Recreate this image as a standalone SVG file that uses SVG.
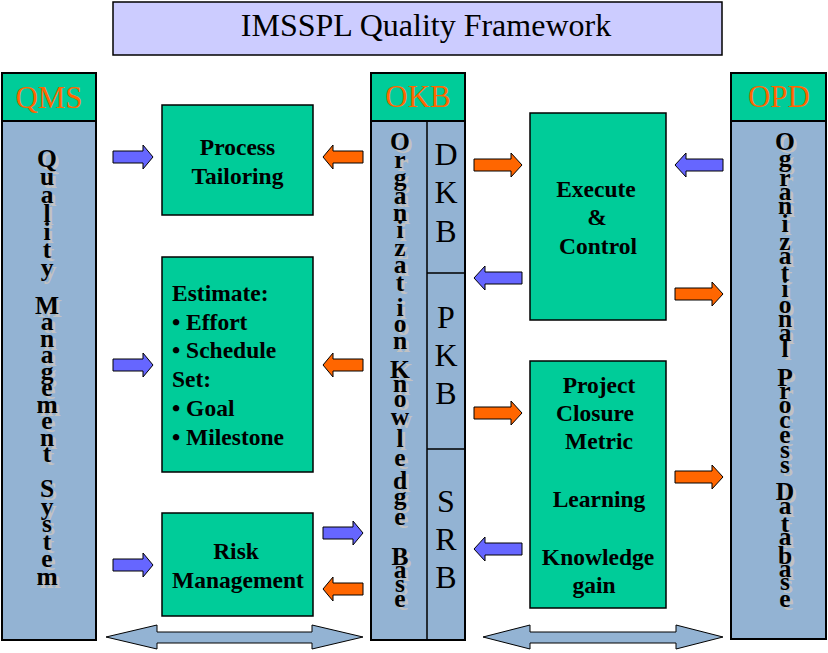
<svg xmlns="http://www.w3.org/2000/svg" xmlns:xlink="http://www.w3.org/1999/xlink" width="828" height="653" viewBox="0 0 828 653">
<style>
.col{fill:#93B3D3;stroke:#000;stroke-width:2}
.hdr{fill:#00CC99;stroke:#000;stroke-width:2}
.box{fill:#00CC99;stroke:#000;stroke-width:1.5}
.ln{stroke:#000;stroke-width:1.5;fill:none}
.hdrt{font-family:"Liberation Serif","Times New Roman",serif;font-size:31px;fill:#FF6600;text-anchor:middle}
.vt{font-family:"Liberation Serif","Times New Roman",serif;font-size:25.5px;font-weight:bold;text-anchor:middle}
.bt{font-family:"Liberation Serif","Times New Roman",serif;font-size:23.5px;font-weight:bold;text-anchor:middle;fill:#000}
.bl{font-family:"Liberation Serif","Times New Roman",serif;font-size:23.5px;font-weight:bold;fill:#000}
.sub{font-family:"Liberation Serif","Times New Roman",serif;font-size:32px;text-anchor:middle;fill:#000}
.title{font-family:"Liberation Serif","Times New Roman",serif;font-size:32px;text-anchor:middle;fill:#000}
.ao{fill:#FF6600;stroke:#000;stroke-width:1}
.ab{fill:#6666FF;stroke:#000;stroke-width:1}
.ad{fill:#93B3D3;stroke:#000;stroke-width:1}
</style>

<g id="title">
<rect x="113" y="2" width="609" height="53" fill="#CCCCFF" stroke="#000" stroke-width="1.5"/>
<text class="title" x="426" y="36">IMSSPL Quality Framework</text>
</g>

<g id="qms" fill="#000">
<rect class="hdr" x="2" y="73" width="94" height="48"/>
<rect class="col" x="2" y="121" width="94" height="519"/>
<text class="hdrt" x="49" y="108">QMS</text>
<use xlink:href="#tQMS" href="#tQMS" x="3" y="3" fill="#C2C2C2"/>
<text id="tQMS" class="vt"><tspan x="47" y="167">Q</tspan><tspan x="47" y="185">u</tspan><tspan x="47" y="203">a</tspan><tspan x="47" y="221.5">l</tspan><tspan x="47" y="240">i</tspan><tspan x="47" y="258">t</tspan><tspan x="47" y="276">y</tspan><tspan x="47" y="295"> </tspan><tspan x="47" y="314">M</tspan><tspan x="47" y="330.4">a</tspan><tspan x="47" y="346.9">n</tspan><tspan x="47" y="363.3">a</tspan><tspan x="47" y="379.8">g</tspan><tspan x="47" y="396.2">e</tspan><tspan x="47" y="412.7">m</tspan><tspan x="47" y="429.1">e</tspan><tspan x="47" y="445.6">n</tspan><tspan x="47" y="462">t</tspan><tspan x="47" y="480"> </tspan><tspan x="47" y="497">S</tspan><tspan x="47" y="514.6">y</tspan><tspan x="47" y="532.2">s</tspan><tspan x="47" y="549.8">t</tspan><tspan x="47" y="567.4">e</tspan><tspan x="47" y="585">m</tspan></text>
</g>

<g id="okb" fill="#000">
<rect class="hdr" x="371" y="73" width="94" height="48"/>
<rect class="col" x="371" y="121" width="94" height="519"/>
<path class="ln" d="M427,121 V640 M427,273 H465 M427,449 H465"/>
<text class="hdrt" x="418" y="107">OKB</text>
<use xlink:href="#tOKB" href="#tOKB" x="3" y="3" fill="#C2C2C2"/>
<text id="tOKB" class="vt"><tspan x="400" y="150">O</tspan><tspan x="400" y="168">r</tspan><tspan x="400" y="186">g</tspan><tspan x="400" y="204">a</tspan><tspan x="400" y="221">n</tspan><tspan x="400" y="238">i</tspan><tspan x="400" y="256">z</tspan><tspan x="400" y="273">a</tspan><tspan x="400" y="291">t</tspan><tspan x="400" y="316">i</tspan><tspan x="400" y="332">o</tspan><tspan x="400" y="349">n</tspan><tspan x="400" y="364"> </tspan><tspan x="400" y="378">K</tspan><tspan x="400" y="392">n</tspan><tspan x="400" y="407">o</tspan><tspan x="400" y="425">w</tspan><tspan x="400" y="447">l</tspan><tspan x="400" y="466">e</tspan><tspan x="400" y="489">d</tspan><tspan x="400" y="505">g</tspan><tspan x="400" y="525">e</tspan><tspan x="400" y="545"> </tspan><tspan x="400" y="565">B</tspan><tspan x="400" y="578">a</tspan><tspan x="400" y="592">s</tspan><tspan x="400" y="607">e</tspan></text>
<text class="sub"><tspan x="446" y="165">D</tspan><tspan x="446" y="203">K</tspan><tspan x="446" y="242">B</tspan></text>
<text class="sub"><tspan x="446" y="328">P</tspan><tspan x="446" y="366">K</tspan><tspan x="446" y="404">B</tspan></text>
<text class="sub"><tspan x="446" y="512">S</tspan><tspan x="446" y="550">R</tspan><tspan x="446" y="588">B</tspan></text>
</g>

<g id="opd" fill="#000">
<rect class="hdr" x="731" y="73" width="95" height="48"/>
<rect class="col" x="731" y="121" width="95" height="518"/>
<text class="hdrt" x="779" y="107">OPD</text>
<use xlink:href="#tOPD" href="#tOPD" x="3" y="3" fill="#C2C2C2"/>
<text id="tOPD" class="vt"><tspan x="785" y="150">O</tspan><tspan x="785" y="167">g</tspan><tspan x="785" y="186">r</tspan><tspan x="785" y="200">a</tspan><tspan x="785" y="214">n</tspan><tspan x="785" y="232">i</tspan><tspan x="785" y="250">z</tspan><tspan x="785" y="264">a</tspan><tspan x="785" y="281">t</tspan><tspan x="785" y="297">i</tspan><tspan x="785" y="313">o</tspan><tspan x="785" y="327">n</tspan><tspan x="785" y="341">a</tspan><tspan x="785" y="357">l</tspan><tspan x="785" y="372"> </tspan><tspan x="785" y="386">P</tspan><tspan x="785" y="399">r</tspan><tspan x="785" y="413">o</tspan><tspan x="785" y="428">c</tspan><tspan x="785" y="443">e</tspan><tspan x="785" y="458">s</tspan><tspan x="785" y="473">s</tspan><tspan x="785" y="487"> </tspan><tspan x="785" y="500">D</tspan><tspan x="785" y="514">a</tspan><tspan x="785" y="532">t</tspan><tspan x="785" y="545">a</tspan><tspan x="785" y="564">b</tspan><tspan x="785" y="577">a</tspan><tspan x="785" y="590">s</tspan><tspan x="785" y="607">e</tspan></text>
</g>

<g id="tailoring">
<rect class="box" x="162" y="105" width="151" height="110"/>
<text class="bt"><tspan x="237.5" y="155">Process</tspan><tspan x="237.5" y="184">Tailoring</tspan></text>
</g>

<g id="estimate">
<rect class="box" x="162" y="257" width="151" height="215"/>
<text class="bl"><tspan x="172" y="301">Estimate:</tspan><tspan x="172" y="330">• Effort</tspan><tspan x="172" y="358">• Schedule</tspan><tspan x="172" y="387">Set:</tspan><tspan x="172" y="416">• Goal</tspan><tspan x="172" y="445">• Milestone</tspan></text>
</g>

<g id="risk">
<rect class="box" x="162" y="513" width="151" height="103"/>
<text class="bt"><tspan x="236" y="559">Risk</tspan><tspan x="238" y="588">Management</tspan></text>
</g>

<g id="execute">
<rect class="box" x="530" y="113" width="136" height="207"/>
<text class="bt"><tspan x="596" y="197">Execute</tspan><tspan x="597" y="225">&amp;</tspan><tspan x="598" y="254">Control</tspan></text>
</g>

<g id="closure">
<rect class="box" x="530" y="361" width="136" height="247"/>
<text class="bt"><tspan x="599" y="393">Project</tspan><tspan x="595" y="421">Closure</tspan><tspan x="599" y="449">Metric</tspan><tspan x="599" y="507">Learning</tspan><tspan x="598" y="565">Knowledge</tspan><tspan x="594" y="593">gain</tspan></text>
</g>

<g id="connectors">
<path class="ab" d="M113,151 H143 V145 L153,157 L143,169 V163 H113 Z"/>
<path class="ab" d="M113,359 H143 V353 L153,365 L143,377 V371 H113 Z"/>
<path class="ab" d="M113,559 H143 V553 L153,565 L143,577 V571 H113 Z"/>
<path class="ao" d="M363,151 H333 V145 L323,157 L333,169 V163 H363 Z"/>
<path class="ao" d="M363,359 H333 V353 L323,365 L333,377 V371 H363 Z"/>
<path class="ao" d="M363,583 H333 V577 L323,589 L333,601 V595 H363 Z"/>
<path class="ab" d="M323,527 H353 V521 L363,533 L353,545 V539 H323 Z"/>
<path class="ao" d="M474,159 H511 V153 L522,165 L511,177 V171 H474 Z"/>
<path class="ao" d="M474,407 H511 V401 L522,413 L511,425 V419 H474 Z"/>
<path class="ab" d="M522,272 H485 V266 L474,278 L485,290 V284 H522 Z"/>
<path class="ab" d="M522,543 H485 V537 L474,549 L485,561 V555 H522 Z"/>
<path class="ab" d="M723,159 H686 V153 L675,165 L686,177 V171 H723 Z"/>
<path class="ao" d="M675,288 H712 V282 L723,294 L712,306 V300 H675 Z"/>
<path class="ao" d="M675,471 H712 V465 L723,477 L712,489 V483 H675 Z"/>
<path class="ad" d="M106,637 L157,625 V632 H312 V625 L363,637 L312,649 V643 H157 V649 Z"/>
<path class="ad" d="M483,637 L530,625 V632 H676 V625 L723,637 L676,649 V643 H530 V649 Z"/>
</g>
</svg>
